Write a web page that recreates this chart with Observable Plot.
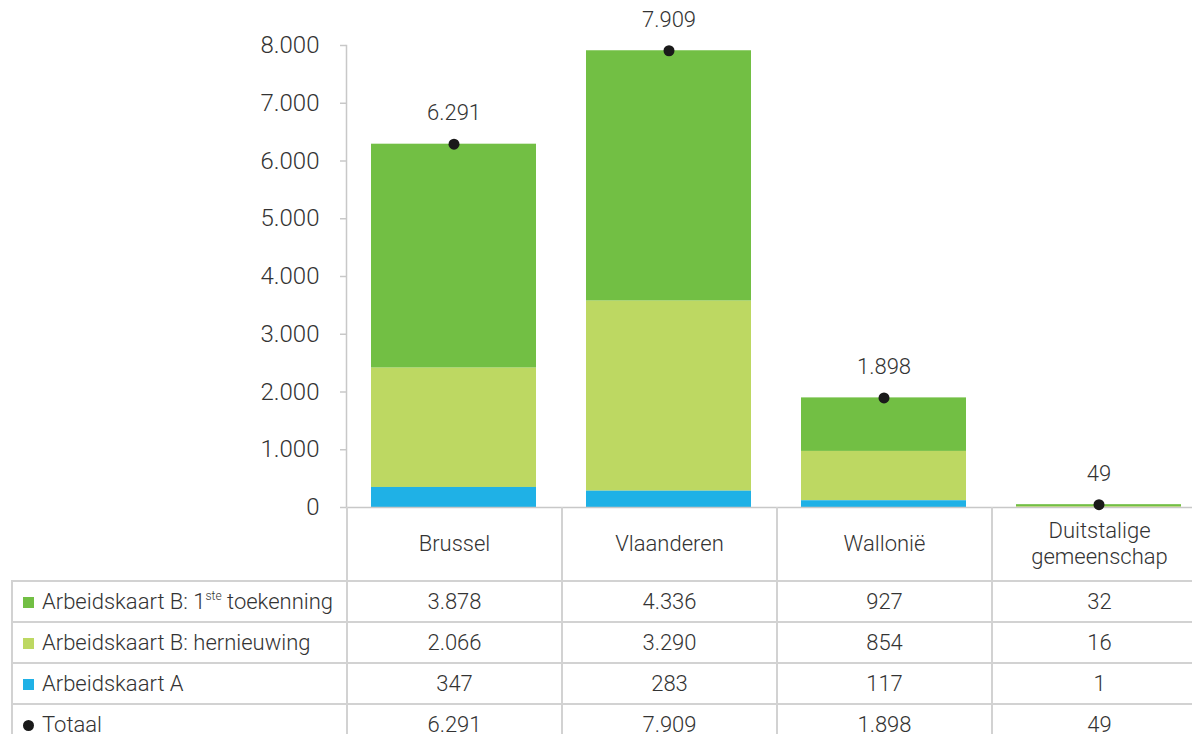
<!DOCTYPE html>
<html>
<head>
<meta charset="utf-8">
<script src="https://cdn.jsdelivr.net/npm/d3@7"></script>
<script src="https://cdn.jsdelivr.net/npm/@observablehq/plot@0.6"></script>
<style>
  html, body { margin: 0; padding: 0; background: #fff; overflow: hidden; width: 1192px; height: 734px; }
  #wrap { position: relative; width: 1206px; height: 760px; font-family: Roboto, "Noto Sans", sans-serif; font-weight: 300; color: #333; }
  #chart { position: absolute; left: 0; top: 0; }
  table { position: absolute; left: 11px; top: 507px; border-collapse: collapse; table-layout: fixed; width: 1195px; font-size: 22px; }
  td { border: 2px solid #d2d2d2; text-align: center; padding: 0; height: 39px; white-space: nowrap; }
  tr.head td { border-top: none; height: 73px; line-height: 26px; white-space: pre-line; }
  tr.head td.blank { border: none; border-right: 2px solid #d2d2d2; }
  td.lab { text-align: left; padding-left: 10px; }
  .sw { display: inline-block; width: 11px; height: 11px; margin-right: 8px; vertical-align: 1px; }
  .dot { display: inline-block; width: 11px; height: 11px; border-radius: 50%; background: #1a1a1a; margin-right: 8px; vertical-align: 1px; }
  sup { font-size: 12px; vertical-align: 9px; line-height: 0; }
</style>
</head>
<body>
<div id="wrap"><div id="chart"></div></div>
<script>
const regions = ["Brussel", "Vlaanderen", "Wallonië", "Duitstalige gemeenschap"];
const regionLabels = ["Brussel", "Vlaanderen", "Wallonië", "Duitstalige\ngemeenschap"];
const series = ["Arbeidskaart B: 1ste toekenning", "Arbeidskaart B: hernieuwing", "Arbeidskaart A"];
const eersteToekenning = [3878, 4336, 927, 32];
const hernieuwing = [2066, 3290, 854, 16];
const kaartA = [347, 283, 117, 1];
const totaal = [6291, 7909, 1898, 49];
const totaalLabel = "Totaal";
const yTicks = [0, 1000, 2000, 3000, 4000, 5000, 6000, 7000, 8000];
const colors = ["#72bf44", "#bdd862", "#1fb1e6"];

const fmt = d3.formatLocale({decimal: ",", thousands: ".", grouping: [3], currency: ["€", ""]}).format(",d");
const seriesValues = [eersteToekenning, hernieuwing, kaartA];

const rows = [];
regions.forEach((r, i) => {
  series.forEach((s, j) => rows.push({region: r, series: s, value: seriesValues[j][i]}));
});
const totals = regions.map((r, i) => ({region: r, total: totaal[i]}));

const chart = Plot.plot({
  width: 1206,
  height: 508,
  marginLeft: 346,
  marginRight: 0,
  marginTop: 45,
  marginBottom: 1,
  style: {fontFamily: "Roboto, 'Noto Sans', sans-serif", fontSize: "22px", fontWeight: 300, color: "#333", background: "transparent", overflow: "visible"},
  x: {domain: regions, paddingInner: 0.233, paddingOuter: 0.1165, axis: null},
  y: {domain: [0, 8000], axis: null},
  color: {domain: series, range: colors},
  marks: [
    Plot.barY(rows, Plot.stackY({
      x: "region", y: "value", fill: "series",
      order: series.slice().reverse()
    })),
    Plot.ruleY([0], {stroke: "#c8c8c8", strokeWidth: 1.5}),
    Plot.frame({anchor: "left", stroke: "#c8c8c8", strokeWidth: 1.5}),
    Plot.axisY({ticks: yTicks, tickSize: 6, tickPadding: 21, tickFormat: fmt, stroke: "#c8c8c8", strokeWidth: 1.5, fill: "#333", fontSize: 24}),
    Plot.dot(totals, {x: "region", y: "total", r: 5.5, fill: "#1a1a1a", stroke: null}),
    Plot.text(totals, {x: "region", y: "total", text: d => fmt(d.total), dy: -31, fill: "#333", fontSize: 22})
  ]
});
document.getElementById("chart").appendChild(chart);

// data table below the chart
const table = document.createElement("table");
let html = '<colgroup><col style="width:335px">' + regions.map(() => '<col style="width:215px">').join("") + '</colgroup>';
html += '<tr class="head"><td class="blank"></td>' + regionLabels.map(l => `<td>${l}</td>`).join("") + '</tr>';
const supName = s => s.replace("1ste", "1<sup>ste</sup>");
series.forEach((s, j) => {
  html += `<tr><td class="lab"><span class="sw" style="background:${colors[j]}"></span>${supName(s)}</td>` +
    seriesValues[j].map(v => `<td>${fmt(v)}</td>`).join("") + '</tr>';
});
html += `<tr><td class="lab"><span class="dot"></span>${totaalLabel}</td>` + totaal.map(v => `<td>${fmt(v)}</td>`).join("") + '</tr>';
table.innerHTML = html;
document.getElementById("wrap").appendChild(table);
</script>
</body>
</html>
